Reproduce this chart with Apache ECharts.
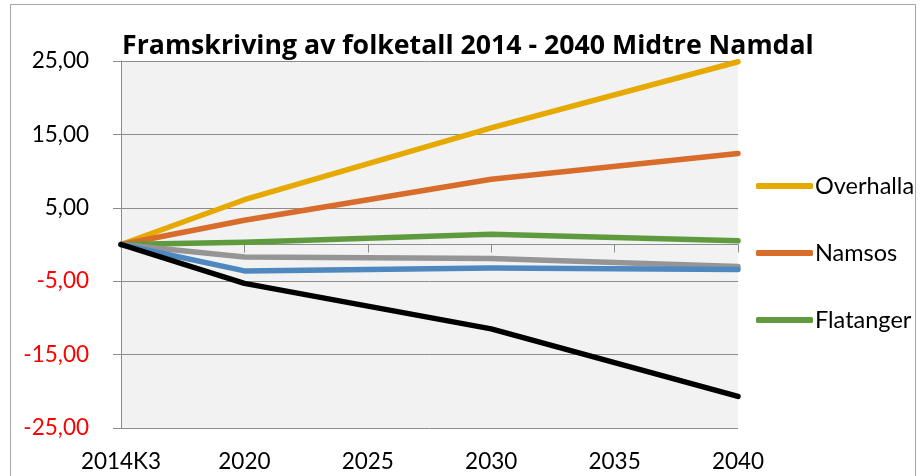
<!doctype html>
<html lang="no">
    <head>
        <meta charset="UTF-8">
        <title>Framskriving av folketall</title>
        <script src="https://cdn.jsdelivr.net/npm/echarts@6/dist/echarts.min.js"></script>
        <style>
            html, body { margin: 0; padding: 0; background: #fff; }
        </style>
    </head>
    <body>
        <div id="main" style="width: 924px;height:476px;"></div>
        <script type="text/javascript">
            // kategorier og verdier (prosent endring fra 2014K3)
            var years = ['2014K3', '2020', '2025', '2030', '2035', '2040'];
            var overhalla = [0, 6.1, null, 15.9, null, 24.9];
            var namsos = [0, 3.3, null, 8.9, null, 12.4];
            var flatanger = [0, 0.3, null, 1.4, null, 0.5];
            var namdalseid = [0, -1.7, null, -1.9, null, -3.0];
            var midtreNamdal = [0, -3.6, null, -3.2, null, -3.4];
            var fosnes = [0, -5.3, null, -11.5, null, -20.7];

            var font = 'Lato';

            var myChart = echarts.init(document.getElementById('main'));

            function line(name, color, data) {
                return {
                    name: name,
                    type: 'line',
                    data: data,
                    connectNulls: true,
                    symbol: 'none',
                    silent: true,
                    lineStyle: { color: color, width: 5.5, cap: 'round', join: 'round' },
                    itemStyle: { color: color }
                };
            }

            var option = {
                animation: false,
                textStyle: { fontFamily: font },
                title: {
                    text: 'Framskriving av folketall 2014 - 2040 Midtre Namdal',
                    left: 117,
                    top: 28,
                    textStyle: { fontFamily: 'Open Sans', fontWeight: 'bold', fontSize: 26.7, color: '#000' }
                },
                graphic: [{
                    type: 'rect',
                    shape: { x: 10.5, y: 4.5, width: 905, height: 490 },
                    style: { fill: 'none', stroke: '#a6a6a6', lineWidth: 1 },
                    silent: true
                }],
                legend: {
                    data: ['Overhalla', 'Namsos', 'Flatanger'],
                    orient: 'vertical',
                    left: 751,
                    top: 169,
                    icon: 'roundRect',
                    itemWidth: 57,
                    itemHeight: 6,
                    itemGap: 43,
                    textStyle: { fontFamily: font, fontSize: 23.5, color: '#000', padding: [0, 0, 0, -3] }
                },
                grid: {
                    left: 121,
                    right: 186,
                    top: 61,
                    bottom: 48,
                    show: true,
                    backgroundColor: '#f2f2f2',
                    borderWidth: 0
                },
                xAxis: [{
                    type: 'category',
                    data: years,
                    boundaryGap: false,
                    axisLine: { onZero: true, lineStyle: { color: '#8c8c8c', width: 1 } },
                    axisTick: { show: true, length: 8, alignWithLabel: true, lineStyle: { color: '#8c8c8c' } },
                    axisLabel: { show: false },
                    splitLine: { show: false }
                }, {
                    type: 'category',
                    data: years,
                    boundaryGap: false,
                    position: 'bottom',
                    axisLine: { show: false, onZero: false },
                    axisTick: { show: false },
                    axisLabel: { show: true, margin: 22, fontFamily: font, fontSize: 22.5, color: '#000' },
                    splitLine: { show: false }
                }],
                yAxis: {
                    type: 'value',
                    min: -25,
                    max: 25,
                    interval: 10,
                    axisLine: { show: true, lineStyle: { color: '#8c8c8c', width: 1 } },
                    axisTick: { show: true, length: 8, lineStyle: { color: '#8c8c8c' } },
                    axisLabel: {
                        margin: 32,
                        fontFamily: font,
                        fontSize: 22.5,
                        formatter: function (v) { return v.toFixed(2).replace('.', ','); },
                        color: function (v) { return Number(v) < 0 ? '#ff0000' : '#000'; }
                    },
                    splitLine: { show: true, lineStyle: { color: '#8c8c8c', width: 1 } }
                },
                series: [
                    line('Overhalla', '#e5a900', overhalla),
                    line('Namsos', '#d86c2b', namsos),
                    line('Flatanger', '#5f9b3e', flatanger),
                    line('Namdalseid', '#959595', namdalseid),
                    line('Midtre Namdal', '#4f87bf', midtreNamdal),
                    line('Fosnes', '#000000', fosnes)
                ]
            };

            myChart.setOption(option);
        </script>
    </body>
</html>
